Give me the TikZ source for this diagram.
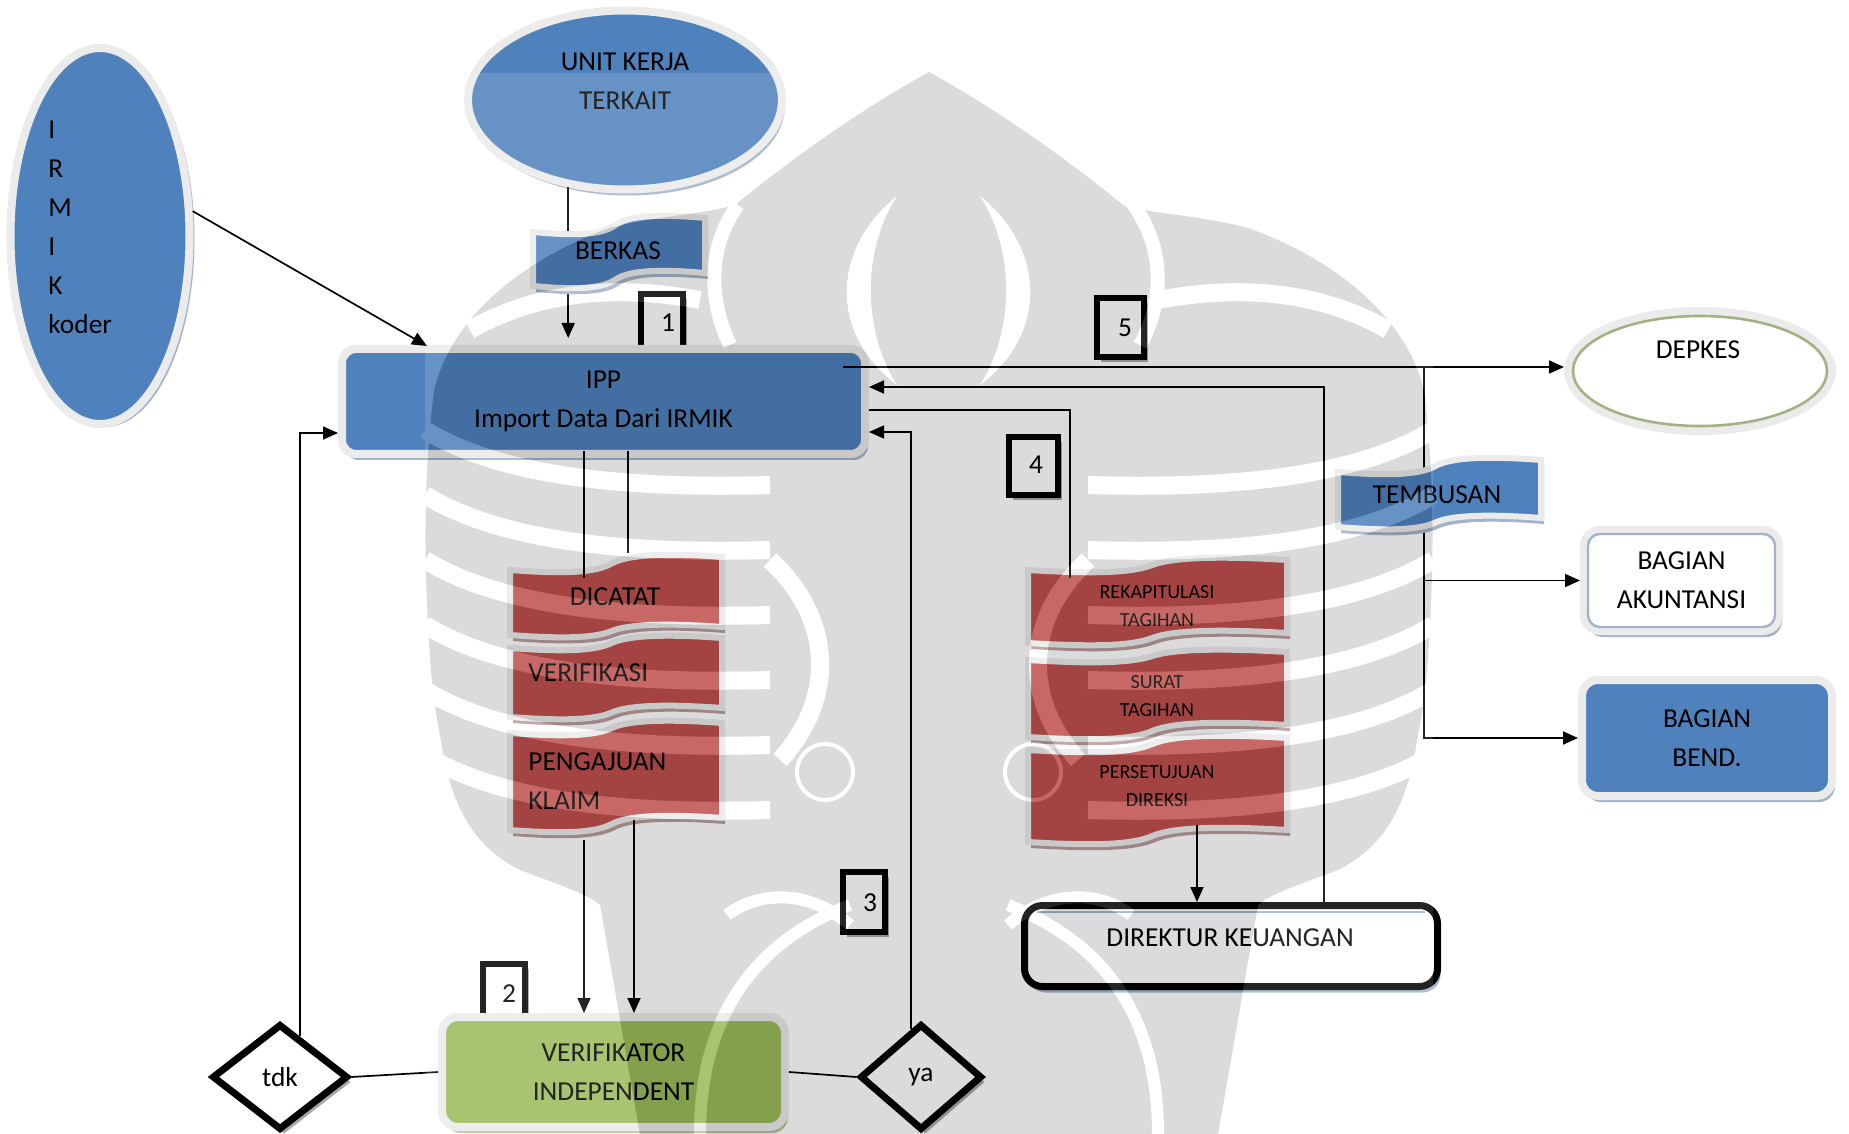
\documentclass[tikz,border=0pt]{standalone}
\usepackage{fontspec}
\setmainfont{Carlito}
\usetikzlibrary{shapes.geometric,arrows.meta,calc,shadows}

\definecolor{ofblue}{HTML}{4F81BD}
\definecolor{ofred}{HTML}{C0504D}
\definecolor{ofgreen}{HTML}{9BBB59}
\definecolor{glow}{HTML}{EBEBEB}
\definecolor{shblue}{HTML}{A3B3C9}
\definecolor{shred}{HTML}{B99A9A}
\definecolor{shgreen}{HTML}{B4C29A}
\definecolor{shgray}{HTML}{A8A8A8}
\definecolor{olivebd}{HTML}{A2B283}

% wave banner: left x, right x, top-left y, top-right y, bottom-left y, bottom-right y
\newcommand\wavepath[6]{%
 (#1,#3) .. controls ({#1+0.25*(#2-#1)},{#3+4}) and ({#1+0.40*(#2-#1)},{#3+3}) .. ({#1+0.48*(#2-#1)},{(#3+#4)/2})
 .. controls ({#1+0.56*(#2-#1)},{#4-3}) and ({#1+0.75*(#2-#1)},{#4-4}) .. (#2,#4)
 -- (#2,#6)
 .. controls ({#1+0.75*(#2-#1)},{#6-4}) and ({#1+0.56*(#2-#1)},{#6-3}) .. ({#1+0.48*(#2-#1)},{(#5+#6)/2})
 .. controls ({#1+0.40*(#2-#1)},{#5+3}) and ({#1+0.25*(#2-#1)},{#5+4}) .. (#1,#5) -- cycle}

\begin{document}
\begin{tikzpicture}[x=0.5pt,y=-0.5pt,
  big/.style={font=\fontsize{13.7}{19.5}\selectfont},
  small/.style={font=\fontsize{10}{14}\selectfont},
  lbl/.style={big, align=center, inner sep=0pt},
  slbl/.style={small, align=center, inner sep=0pt},
  conn/.style={line width=0.85pt},
  arr/.style={conn, -{Triangle[length=7.5pt,width=6.5pt]}},
  glowring/.style={draw=glow, line width=4pt},
  shadowof/.style={drop shadow={shadow xshift=1.5pt, shadow yshift=-3pt, fill=#1, opacity=1}},
  numbox/.style={draw=black, line width=3pt, fill=white, inner sep=0pt,
    drop shadow={shadow xshift=2pt, shadow yshift=-2.5pt, fill=shgray, opacity=1}},
  decision/.style={diamond, draw=black, line width=3.5pt, fill=white, lbl,
    drop shadow={shadow xshift=2pt, shadow yshift=-2.5pt, fill=shgray, opacity=1}},
  wavebox/.style={draw=glow, line width=3pt},
  rib/.style={white, line width=9pt}
]
\useasboundingbox (0,0) rectangle (1849,1134);
\fill[white] (0,0) rectangle (1849,1134);

% ---------- sources ----------
\node[ellipse, glowring, fill=ofblue, minimum width=89.5pt, minimum height=188pt,
  drop shadow={shadow xshift=2.5pt, shadow yshift=-1.5pt, fill=shblue, opacity=1}] (irmik) at (100,236) {};
\node[big, align=left, inner sep=0pt, anchor=north west] (irmiktxt) at (48,121) {I\\R\\M\\I\\K\\koder};

\node[ellipse, glowring, fill=ofblue, minimum width=157pt, minimum height=89.5pt, shadowof=shblue] (unit) at (625,100) {};
\node[lbl] (unittxt) at (625,81) {UNIT KERJA\\TERKAIT};

% step 1 marker sits behind the IPP box
\node[numbox, minimum width=21pt, minimum height=42.5pt] (n1) at (662,337) {};
\node[lbl] (n1t) at (668,323) {1};

% ---------- IPP ----------
\node[rectangle, rounded corners=7pt, glowring, fill=ofblue, minimum width=261.5pt, minimum height=52.5pt,
  lbl, shadowof=shblue] (ipp) at (603.5,401.5) {IPP\\Import Data Dari IRMIK};

\draw[arr, shorten >=3.5pt] (unit.237) -- (unit.237 |- ipp.north);

\fill[ofblue, wavebox, shadowof=shblue] \wavepath{533}{705}{232}{218}{286}{273};
\node[lbl] (berkas) at (618,251) {BERKAS};

\draw[arr] (irmik.15) -- ($(ipp.north west)+(89,1)$);

% ---------- markers 5 and 4 ----------
\node[numbox, minimum width=23.5pt, minimum height=29.5pt] (n5) at (1120.5,327.5) {};
\node[lbl] (n5t) at (1125,328) {5};
\node[numbox, minimum width=24.5pt, minimum height=29pt] (n4) at (1033.5,466) {};
\node[lbl] (n4t) at (1036,465) {4};

% ---------- receivers ----------
\node[ellipse, glowring, fill=white, minimum width=132pt, minimum height=60pt] (depkes) at (1700,371) {};
\draw[olivebd, line width=1.3pt] (depkes.center) ellipse [x radius=63.5pt, y radius=27.5pt];
\node[lbl] (depkestxt) at (1698,350) {DEPKES};

\node[rectangle, rounded corners=8pt, glowring, fill=white, minimum width=97.5pt, minimum height=50.5pt,
  lbl, shadowof=shblue] (akun) at (1681.5,580.5) {BAGIAN\\AKUNTANSI};
\draw[shblue, line width=1.2pt, rounded corners=6pt] ($(akun.north west)+(8,8)$) rectangle ($(akun.south east)+(-8,-8)$);

\node[rectangle, rounded corners=8pt, glowring, fill=ofblue, minimum width=125pt, minimum height=58pt,
  lbl, shadowof=shblue] (bend) at (1707,738) {BAGIAN\\BEND.};

\coordinate (ippout) at ($(ipp.east)+(-26,-34.5)$);
\coordinate (split) at (1424,367);
\draw[arr] (ippout) -- (ippout -| depkes.west);
\draw[arr] (split) |- (bend.west);
\draw[arr] (split |- akun.west) -- (akun.west);

\fill[ofblue, wavebox, shadowof=shblue] \wavepath{1338}{1541}{472}{460}{527}{518};
\node[lbl] (tembusan) at (1437,495) {TEMBUSAN};

% ---------- left document stack ----------
\fill[ofred, wavebox, shadowof=shred] \wavepath{510}{722}{570}{557}{635}{627};
\node[lbl] (dicatat) at (615,597) {DICATAT};
\fill[ofred, wavebox, shadowof=shred] \wavepath{510}{722}{648}{638}{717}{708};
\node[lbl, anchor=west] (verifikasi) at (528,673) {VERIFIKASI};
\fill[ofred, wavebox, shadowof=shred] \wavepath{510}{722}{733}{723}{830}{818};
\node[big, align=left, inner sep=0pt, anchor=west] (pengajuan) at (528,781) {PENGAJUAN\\KLAIM};

% ---------- right document stack ----------
\fill[ofred, wavebox, shadowof=shred] \wavepath{1028}{1287}{570}{560}{643}{633};
\begin{scope}
  \clip (1028,540) rectangle (1290,626);
  \node[slbl] (rekap) at (1157,606) {REKAPITULASI\\TAGIHAN};
\end{scope}
\fill[ofred, wavebox, shadowof=shred] \wavepath{1028}{1287}{660}{652}{737}{725};
\node[slbl] (surat) at (1157,696) {SURAT\\TAGIHAN};
\fill[ofred, wavebox, shadowof=shred] \wavepath{1028}{1287}{750}{738}{842}{830};
\node[slbl] (setuju) at (1157,786) {PERSETUJUAN\\DIREKSI};

% ---------- bottom row ----------
\node[rectangle, rounded corners=9pt, draw=black, line width=3.5pt, fill=white, minimum width=206.5pt,
  minimum height=40.5pt, shadowof=shblue] (dk) at (1231,946) {};
\draw[shblue, line width=1.2pt] ($(dk.north west)+(16,10)$) -- ($(dk.north east)+(-16,10)$);
\node[lbl] (dktxt) at (1230,938) {DIREKTUR KEUANGAN};

\node[numbox, minimum width=21pt, minimum height=38pt] (n2) at (504,1002) {};
\node[lbl] (n2t) at (509,994) {2};
\node[rectangle, rounded corners=8pt, glowring, fill=ofgreen, minimum width=171.5pt, minimum height=55pt,
  lbl, shadowof=shgreen] (verif) at (613.5,1072) {VERIFIKATOR\\INDEPENDENT};

\node[numbox, minimum width=21pt, minimum height=30pt] (n3) at (864,902) {};
\node[lbl] (n3t) at (870,903) {3};

\node[decision, minimum width=68pt, minimum height=53pt] (tdk) at (280,1077) {tdk};
\node[decision, minimum width=61pt, minimum height=53pt] (ya) at (921,1077) {ya};

% ---------- connectors ----------
\coordinate (lsA) at (584,578);
\coordinate (lsB) at (628,553);
\draw[conn] ($(lsA |- ipp.south)+(0,-7)$) -- (lsA);
\draw[conn] ($(lsB |- ipp.south)+(0,-7)$) -- (lsB);
\coordinate (lsC) at (584,840);
\coordinate (lsD) at (634,820);
\draw[arr] (lsC) -- (lsC |- verif.north);
\draw[arr] (lsD) -- (lsD |- verif.north);

\coordinate (rsA) at (1070,578);
\draw[conn] (rsA) |- ($(ipp.east)+(0,8.5)$);
\coordinate (rsC) at (1197,825);
\draw[arr] (rsC) -- (rsC |- dk.north);

\draw[arr] ($(dk.north)+(93,0)$) |- ($(ipp.east)+(0,-14.5)$);
\draw[arr] ($(ya.north)!0.15!(ya.west)$) |- ($(ipp.east)+(0,30.5)$);
\draw[arr] ($(tdk.north)!0.28!(tdk.east)$) |- ($(ipp.west)+(0,31.5)$);
\draw[conn] (tdk.east) -- (verif.west);
\draw[conn] (verif.east) -- (ya.west);

% ---------- faint emblem over the middle of the chart ----------
\begin{scope}[transparency group, opacity=0.14]
  \fill[white] (425,73) rectangle (1433,1134);
  \fill[black] (929,72) .. controls (860,110) and (790,160) .. (735,205)
    .. controls (700,215) and (660,215) .. (610,228)
    .. controls (520,260) and (450,320) .. (434,391)
    .. controls (425,460) and (424,540) .. (427,601)
    .. controls (430,680) and (435,710) .. (441,741)
    .. controls (450,800) and (470,845) .. (520,870)
    .. controls (560,885) and (590,895) .. (600,905)
    .. controls (610,960) and (625,1050) .. (640,1134)
    -- (1218,1134)
    .. controls (1233,1050) and (1248,960) .. (1258,905)
    .. controls (1268,895) and (1298,885) .. (1338,870)
    .. controls (1388,845) and (1408,800) .. (1417,741)
    .. controls (1423,710) and (1428,680) .. (1431,601)
    .. controls (1434,540) and (1433,460) .. (1424,391)
    .. controls (1408,320) and (1338,260) .. (1248,228)
    .. controls (1198,215) and (1158,215) .. (1123,205)
    .. controls (1068,160) and (998,110) .. (929,72) -- cycle;
  % dome outline and inner petals
  \draw[white, line width=7pt] (738,205) .. controls (708,245) and (708,300) .. (730,345);
  \draw[white, line width=7pt] (1130,200) .. controls (1165,245) and (1165,300) .. (1140,345);
  \fill[white] (897,196) .. controls (830,250) and (830,335) .. (897,385)
    .. controls (862,330) and (862,250) .. (897,196) -- cycle;
  \fill[white] (980,196) .. controls (1047,250) and (1047,335) .. (980,385)
    .. controls (1015,330) and (1015,250) .. (980,196) -- cycle;
  % lobes beside the dome
  \draw[rib] (470,330) .. controls (540,290) and (620,285) .. (700,300);
  \draw[rib] (1388,330) .. controls (1318,290) and (1238,285) .. (1158,300);
  % side ribs, bowl shaped
  \foreach \r in {430,495,560,625,690,755} {
    \draw[rib] (425,\r) .. controls (490,{\r+40}) and (600,{\r+60}) .. (770,{\r+55});
    \draw[rib] (1433,\r) .. controls (1368,{\r+40}) and (1258,{\r+60}) .. (1088,{\r+55});
  }
  % inner brackets and eyes
  \draw[rib] (770,560) .. controls (835,620) and (835,700) .. (780,760);
  \draw[rib] (1088,560) .. controls (1023,620) and (1023,700) .. (1078,760);
  \draw[white, line width=2pt] (825,772) circle [radius=14pt];
  \draw[white, line width=2pt] (1033,772) circle [radius=14pt];
  % lower face
  \draw[white, line width=6pt] (700,1134) .. controls (700,1010) and (760,940) .. (850,905);
  \draw[white, line width=6pt] (1158,1134) .. controls (1158,1010) and (1098,940) .. (1008,905);
  \draw[white, line width=6pt] (727,915) .. controls (760,890) and (810,890) .. (850,925);
  \draw[white, line width=6pt] (1131,915) .. controls (1098,890) and (1048,890) .. (1008,925);
\end{scope}
\end{tikzpicture}
\end{document}
